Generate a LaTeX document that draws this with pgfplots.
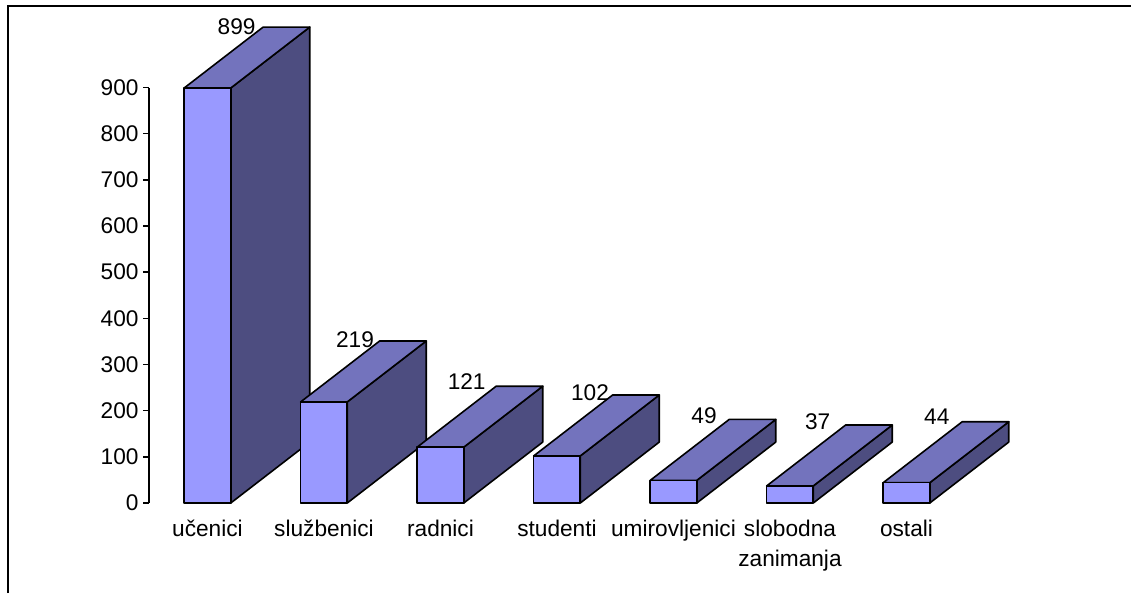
\documentclass[border=0pt]{standalone}
\usepackage{fontspec}
\setmainfont{Liberation Sans}
\usepackage{pgfplots}
\usepackage{pgfplotstable}
\pgfplotsset{compat=1.18}

\definecolor{barfront}{HTML}{9999FF}
\definecolor{bartop}{HTML}{7373BD}
\definecolor{barside}{HTML}{4D4D80}

\newcommand{\chartfont}{\fontsize{17}{22.5}\selectfont}

% label positions sit above the back of each bar
\pgfplotstableread{
x     y      value
0.25  1032   899
1.266 353    219
2.225 262    121
3.283 238    102
4.262 189    49
5.238 175.5  37
6.26  187    44
}\barlabels

\pgfplotsset{
    side/.style={draw=black, line width=1.2pt, line join=round, fill=barside, mark=none, forget plot},
    top/.style={draw=black, line width=1.2pt, line join=round, fill=bartop, mark=none, forget plot},
    front/.style={draw=black, line width=1.2pt, line join=round, fill=barfront, mark=none, forget plot},
}

\begin{document}
\begin{tikzpicture}
\path[use as bounding box] (0,0) rectangle (848.25pt,444.75pt);
\draw[line width=1.2pt] (6pt,0pt) -- (6pt,440.25pt) -- (848.25pt,440.25pt);
\begin{axis}[
    at={(111.75pt,67.5pt)},
    anchor=south west,
    scale only axis,
    width=611.8pt,
    height=311.6pt,
    xmin=-0.502, xmax=6.5,
    ymin=0, ymax=900,
    clip=false,
    axis y line*=left,
    axis x line*=bottom,
    x axis line style={draw=none},
    y axis line style={line width=1.1pt},
    xtick={0,1,2,3,4,5,6},
    xticklabels={u\v{c}enici,slu\v{z}benici,radnici,studenti,umirovljenici,{slobodna\\zanimanja},ostali},
    ytick={0,100,200,300,400,500,600,700,800,900},
    tick label style={font=\chartfont},
    /pgf/number format/assume math mode=true,
    x tick style={draw=none},
    y tick style={black, line width=1.1pt},
    major tick length=4.5pt,
    tick align=outside,
    xticklabel style={align=center, inner sep=0pt, anchor=north, yshift=-8pt},
    yticklabel style={inner sep=0pt, anchor=east, xshift=-3.2pt},
]
% ucenici
\addplot[side] coordinates {(0.2,0)(0.878,132)(0.878,1031)(0.2,899)} -- cycle;
\addplot[top] coordinates {(-0.2,899)(0.2,899)(0.878,1031)(0.478,1031)} -- cycle;
\addplot[front] coordinates {(-0.2,0)(0.2,0)(0.2,899)(-0.2,899)} -- cycle;
% sluzbenici
\addplot[side] coordinates {(1.2,0)(1.878,132)(1.878,351)(1.2,219)} -- cycle;
\addplot[top] coordinates {(0.8,219)(1.2,219)(1.878,351)(1.478,351)} -- cycle;
\addplot[front] coordinates {(0.8,0)(1.2,0)(1.2,219)(0.8,219)} -- cycle;
% radnici
\addplot[side] coordinates {(2.2,0)(2.878,132)(2.878,253)(2.2,121)} -- cycle;
\addplot[top] coordinates {(1.8,121)(2.2,121)(2.878,253)(2.478,253)} -- cycle;
\addplot[front] coordinates {(1.8,0)(2.2,0)(2.2,121)(1.8,121)} -- cycle;
% studenti
\addplot[side] coordinates {(3.2,0)(3.878,132)(3.878,234)(3.2,102)} -- cycle;
\addplot[top] coordinates {(2.8,102)(3.2,102)(3.878,234)(3.478,234)} -- cycle;
\addplot[front] coordinates {(2.8,0)(3.2,0)(3.2,102)(2.8,102)} -- cycle;
% umirovljenici
\addplot[side] coordinates {(4.2,0)(4.878,132)(4.878,181)(4.2,49)} -- cycle;
\addplot[top] coordinates {(3.8,49)(4.2,49)(4.878,181)(4.478,181)} -- cycle;
\addplot[front] coordinates {(3.8,0)(4.2,0)(4.2,49)(3.8,49)} -- cycle;
% slobodna zanimanja
\addplot[side] coordinates {(5.2,0)(5.878,132)(5.878,169)(5.2,37)} -- cycle;
\addplot[top] coordinates {(4.8,37)(5.2,37)(5.878,169)(5.478,169)} -- cycle;
\addplot[front] coordinates {(4.8,0)(5.2,0)(5.2,37)(4.8,37)} -- cycle;
% ostali
\addplot[side] coordinates {(6.2,0)(6.878,132)(6.878,176)(6.2,44)} -- cycle;
\addplot[top] coordinates {(5.8,44)(6.2,44)(6.878,176)(6.478,176)} -- cycle;
\addplot[front] coordinates {(5.8,0)(6.2,0)(6.2,44)(5.8,44)} -- cycle;
% value labels
\addplot[
    draw=none, mark=none, forget plot,
    nodes near coords,
    point meta=explicit symbolic,
    every node near coord/.style={anchor=center, inner sep=0pt, font=\chartfont, text=black},
] table[x=x, y=y, meta=value] {\barlabels};
\end{axis}
\end{tikzpicture}
\end{document}
